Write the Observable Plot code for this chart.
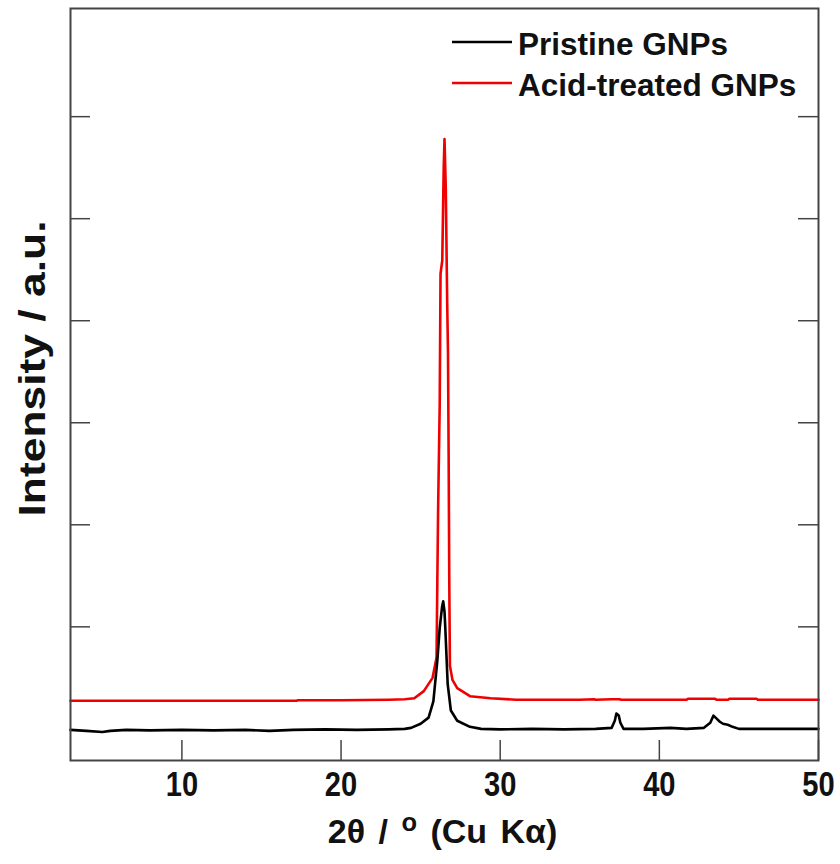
<!DOCTYPE html>
<html>
<head>
<meta charset="utf-8">
<script src="https://cdn.jsdelivr.net/npm/d3@7"></script>
<script src="https://cdn.jsdelivr.net/npm/@observablehq/plot@0.6"></script>
<style>
  html, body { margin: 0; padding: 0; background: #fff; }
  #chart svg { display: block; }
</style>
</head>
<body>
<div id="chart"></div>
<script>
// ---- data ----
const seriesNames = ["Pristine GNPs", "Acid-treated GNPs"];
const seriesColors = ["#000000", "#f00000"];

const pristineTheta = [3.0, 4.0, 5.0, 5.5, 6.5, 8.0, 10, 12, 14, 15.5, 17, 19, 21, 23, 24.0, 24.4, 25.0, 25.5, 25.8, 26.05, 26.2, 26.35, 26.42, 26.5, 26.55, 26.7, 26.9, 27.3, 28.1, 28.8, 30, 32, 34, 36, 37.0, 37.2, 37.3, 37.45, 37.55, 37.75, 39, 40.7, 41.7, 42.8, 43.2, 43.4, 43.6, 43.8, 44.0, 44.3, 44.6, 45.0, 47, 50];
const pristineIntensity = [-0.01, -0.02, -0.03, -0.02, -0.01, -0.015, -0.01, -0.015, -0.01, -0.02, -0.01, -0.005, -0.01, -0.005, 0.0, 0.01, 0.05, 0.11, 0.27, 0.67, 0.99, 1.2, 1.25, 1.15, 0.99, 0.44, 0.18, 0.08, 0.02, 0.0, -0.005, 0.0, -0.005, 0.0, 0.01, 0.08, 0.15, 0.13, 0.06, 0.0, 0.0, 0.01, 0.0, 0.01, 0.06, 0.13, 0.1, 0.07, 0.05, 0.04, 0.02, 0.0, 0.0, 0.0];

const acidTheta = [3.0, 10, 15, 17.2, 17.3, 20, 23, 24.0, 24.6, 25.2, 25.75, 26.0, 26.05, 26.1, 26.2, 26.25, 26.36, 26.45, 26.5, 26.58, 26.67, 26.72, 26.76, 26.8, 26.84, 27.0, 27.3, 28.1, 29.4, 31, 35, 35.9, 36, 37, 37.5, 37.6, 41.7, 41.8, 43.5, 43.6, 44.3, 44.4, 46.1, 46.2, 50];
const acidIntensity = [0.275, 0.275, 0.275, 0.275, 0.28, 0.28, 0.285, 0.29, 0.30, 0.37, 0.50, 0.7, 1.45, 2.17, 3.19, 4.46, 4.59, 5.5, 5.78, 5.3, 4.17, 3.68, 2.7, 1.45, 0.62, 0.48, 0.40, 0.32, 0.30, 0.285, 0.285, 0.29, 0.285, 0.29, 0.29, 0.285, 0.285, 0.295, 0.295, 0.285, 0.285, 0.295, 0.295, 0.285, 0.285];

const xTicks = [10, 20, 30, 40, 50];
const yTicks = [1, 2, 3, 4, 5, 6];
const xDomain = [3, 50];
const yDomain = [-0.31, 7.06];
const xTitle = "2θ / o (Cu Kα)";
const yTitle = "Intensity / a.u.";

// ---- build tables ----
const pristine = pristineTheta.map((t, i) => ({theta: t, intensity: pristineIntensity[i]}));
const acid = acidTheta.map((t, i) => ({theta: t, intensity: acidIntensity[i]}));

const W = 840, H = 864;
const mL = 70, mR = 22, mT = 8, mB = 104;
const plotW = W - mL - mR, plotH = H - mT - mB;
const tickLen = 20;
const font = "'Liberation Sans', Arial, Helvetica, sans-serif";
const axisColor = "#444";

const chart = Plot.plot({
  width: W,
  height: H,
  marginLeft: mL,
  marginRight: mR,
  marginTop: mT,
  marginBottom: mB,
  style: {background: "#fff", overflow: "visible"},
  x: {domain: xDomain},
  y: {domain: yDomain, axis: null},
  marks: [
    Plot.line(acid, {x: "theta", y: "intensity", stroke: seriesColors[1], strokeWidth: 2.6}),
    Plot.line(pristine, {x: "theta", y: "intensity", stroke: seriesColors[0], strokeWidth: 2.6}),
    Plot.tickX(xTicks, {x: d => d, stroke: axisColor, strokeWidth: 1.5, insetTop: plotH - tickLen}),
    Plot.tickY(yTicks, {y: d => d, stroke: axisColor, strokeWidth: 1.5, insetRight: plotW - tickLen}),
    Plot.tickY(yTicks, {y: d => d, stroke: axisColor, strokeWidth: 1.5, insetLeft: plotW - tickLen}),
    Plot.frame({stroke: axisColor, strokeWidth: 2}),
    Plot.axisX({ticks: xTicks, tickSize: 0, tickPadding: 10, label: null, fontSize: 31, fontWeight: "bold", fontFamily: font, fill: "#111"}),
    Plot.text([yTitle], {text: d => d, frameAnchor: "left", textAnchor: "middle", lineAnchor: "middle", rotate: -90, dx: -37, dy: -16, fontSize: 37, fontWeight: "bold", fontFamily: font, fill: "#111"}),
    Plot.text([xTitle], {text: d => d, frameAnchor: "bottom", textAnchor: "middle", lineAnchor: "middle", dy: 72, dx: -2, fontSize: 34, fontWeight: "bold", fontFamily: font, fill: "#111"})
  ]
});

document.getElementById("chart").appendChild(chart);
const svg = d3.select(chart);

// the reference type is tall and narrow: stretch the y title along its length
svg.selectAll("text").filter(function() { return this.textContent === yTitle; }).each(function() {
  const tr = this.getAttribute("transform") || "";
  this.setAttribute("transform", tr + " scale(1.2,1)");
});
// and the x tick labels slightly narrower / taller
svg.selectAll("g[aria-label='x-axis tick label'] text").each(function() {
  const tr = this.getAttribute("transform") || "";
  this.setAttribute("transform", tr + " scale(0.94,1.14)");
});

// superscript "o" in x title
svg.selectAll("text").filter(function() { return this.textContent === xTitle; }).each(function() {
  const t = d3.select(this);
  t.attr("word-spacing", 4);
  t.text(null);
  t.append("tspan").text("2θ / ");
  t.append("tspan").attr("dy", "-0.5em").attr("font-size", "0.75em").text("o");
  t.append("tspan").attr("dy", "0.375em").text(" (Cu Kα)");
});

// legend
const legend = svg.append("g").attr("font-family", font).attr("font-weight", "bold").attr("font-size", 31.5).attr("text-anchor", "start");
seriesNames.forEach((name, i) => {
  const yy = 42 + i * 41;
  legend.append("line").attr("x1", 452).attr("x2", 512).attr("y1", yy).attr("y2", yy)
    .attr("stroke", seriesColors[i]).attr("stroke-width", 2.4);
  legend.append("text").attr("x", 518).attr("y", yy + 2).attr("dy", "0.36em").attr("fill", "#111").text(name);
});
</script>
</body>
</html>
